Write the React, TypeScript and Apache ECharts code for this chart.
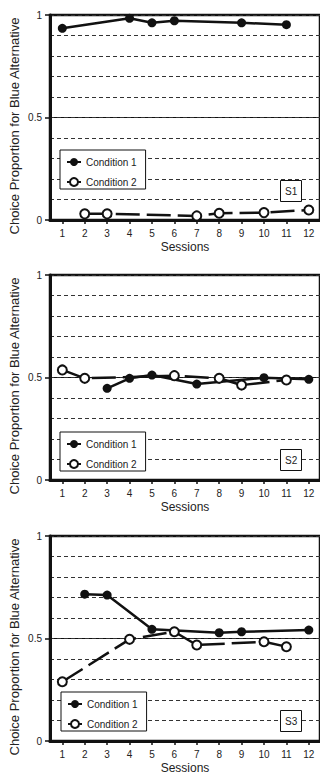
import React, { useEffect, useRef } from "react";
import * as echarts from "echarts";

const sessions = [1, 2, 3, 4, 5, 6, 7, 8, 9, 10, 11, 12];
const yTickValues = [0, 0.5, 1];
const panelTags = ["S1", "S2", "S3"];
const conditionNames = ["Condition 1", "Condition 2"];

// S1
const s1c1Sessions = [1, 4, 5, 6, 9, 11];
const s1c1Values = [0.935, 0.984, 0.962, 0.972, 0.962, 0.953];
const s1c2Sessions = [2, 3, 7, 8, 10, 12];
const s1c2Values = [0.03, 0.03, 0.02, 0.033, 0.036, 0.049];
// S2
const s2c1Sessions = [3, 4, 5, 7, 10, 12];
const s2c1Values = [0.447, 0.496, 0.512, 0.468, 0.499, 0.491];
const s2c2Sessions = [1, 2, 6, 8, 9, 11];
const s2c2Values = [0.537, 0.496, 0.509, 0.496, 0.463, 0.488];
// S3
const s3c1Sessions = [2, 3, 5, 8, 9, 12];
const s3c1Values = [0.716, 0.712, 0.545, 0.528, 0.533, 0.541];
const s3c2Sessions = [1, 4, 6, 7, 10, 11];
const s3c2Values = [0.289, 0.496, 0.533, 0.468, 0.484, 0.46];

const panels = [
  { c1: [s1c1Sessions, s1c1Values], c2: [s1c2Sessions, s1c2Values] },
  { c1: [s2c1Sessions, s2c1Values], c2: [s2c2Sessions, s2c2Values] },
  { c1: [s3c1Sessions, s3c1Values], c2: [s3c2Sessions, s3c2Values] },
];

const FONT = "'Liberation Sans', Arial, sans-serif";
const INK = "#111";

const zip = (xs: number[], ys: number[]) => xs.map((x, i) => [x, ys[i]]);

export default function App() {
  const ref = useRef<HTMLDivElement>(null);
  useEffect(() => {
    document.body.style.margin = "0";
    if (!ref.current) return;
    const chart = echarts.init(ref.current, undefined, { renderer: "svg" });
    const tops = [15, 275, 536];
    const legendTops = [150, 432, 692];
    const tagTops = [180, 449, 710];

    const grid = tops.map((t) => ({
      left: 50,
      top: t,
      width: 271,
      height: 205,
      show: true,
      borderColor: INK,
      borderWidth: 2.5,
    }));

    const xAxis = tops.map((_, i) => ({
      type: "value",
      gridIndex: i,
      min: 0.45,
      max: 12.5,
      axisLine: { lineStyle: { color: INK, width: 3 } },
      axisTick: { customValues: sessions, length: 4, lineStyle: { color: INK, width: 1.5 } },
      axisLabel: { customValues: sessions, fontSize: 10, color: "#222", margin: 8, fontFamily: FONT },
      splitLine: { show: false },
      name: "Sessions",
      nameLocation: "middle",
      nameGap: 21,
      nameTextStyle: { fontSize: 12, color: "#222", fontFamily: FONT },
    }));

    const yAxis: any[] = [];
    tops.forEach((_, i) => {
      yAxis.push({
        type: "value",
        gridIndex: i,
        min: 0,
        max: 1,
        interval: 0.5,
        axisLine: { show: true, lineStyle: { color: INK, width: 3 } },
        axisTick: { show: true, customValues: yTickValues, length: 5, lineStyle: { color: INK, width: 1.5 } },
        axisLabel: { customValues: yTickValues, fontSize: 10, color: "#222", margin: 8, fontFamily: FONT },
        splitLine: { show: true, lineStyle: { color: INK, width: 1, type: "solid" } },
      });
      yAxis.push({
        type: "value",
        gridIndex: i,
        position: "left",
        min: 0,
        max: 1,
        interval: 0.1,
        axisLine: { show: false },
        axisTick: { show: false },
        axisLabel: { show: false },
        splitLine: { show: true, lineStyle: { color: "#333", width: 1, type: [4, 3] } },
      });
    });

    const series: any[] = [];
    panels.forEach((p, i) => {
      series.push({
        name: conditionNames[0],
        type: "line",
        xAxisIndex: i,
        yAxisIndex: 2 * i,
        data: zip(p.c1[0], p.c1[1]),
        symbol: "circle",
        symbolSize: 9,
        itemStyle: { color: INK },
        lineStyle: { color: INK, width: 2.5, type: "solid" },
        z: 3,
      });
      series.push({
        name: conditionNames[1],
        type: "line",
        xAxisIndex: i,
        yAxisIndex: 2 * i,
        data: zip(p.c2[0], p.c2[1]),
        symbol: "circle",
        symbolSize: 9,
        itemStyle: { color: "#fff", borderColor: INK, borderWidth: 2 },
        lineStyle: { color: INK, width: 2.5, type: [24, 7] },
        z: 4,
      });
    });

    const legend = legendTops.map((t, i) => ({
      data: conditionNames,
      orient: "vertical",
      left: i === 2 ? 61 : 60,
      top: t,
      padding: [7, 9, 2, 6],
      itemGap: 10,
      itemWidth: 14,
      itemHeight: 10,
      backgroundColor: "#fff",
      borderColor: INK,
      borderWidth: 1,
      selectedMode: false,
      z: 10,
      lineStyle: { color: INK, width: 2, type: "solid" },
      textStyle: { fontSize: 10, color: "#222", fontFamily: FONT },
    }));

    const title = tagTops.map((t, i) => ({
      text: panelTags[i],
      left: 280,
      top: t,
      padding: [6, 5],
      backgroundColor: "#fff",
      borderColor: INK,
      borderWidth: 1,
      z: 10,
      textStyle: { fontSize: 10, fontWeight: "normal", color: "#222", fontFamily: FONT },
    }));

    const graphic = tops.map((t) => ({
      type: "text",
      x: 14,
      y: t + 111,
      rotation: Math.PI / 2,
      style: {
        text: "Choice Proportion for Blue Alternative",
        fontSize: 13,
        fill: "#222",
        align: "center",
        verticalAlign: "middle",
        fontFamily: FONT,
      },
    }));

    chart.setOption({
      animation: false,
      textStyle: { fontFamily: FONT },
      grid,
      xAxis,
      yAxis,
      series,
      legend,
      title,
      graphic,
    });
    return () => chart.dispose();
  }, []);
  return <div ref={ref} style={{ width: 320, height: 776 }} />;
}
